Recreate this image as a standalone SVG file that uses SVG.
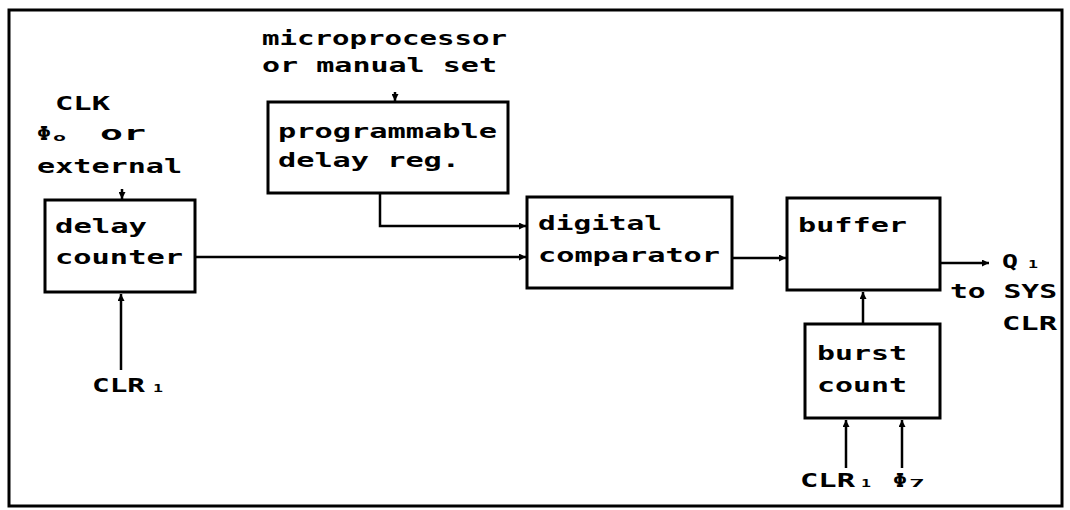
<svg xmlns="http://www.w3.org/2000/svg" width="1070" height="510" viewBox="0 0 1070 510">
<style>
.box{fill:#fff;stroke:#000;stroke-width:3}
.ln{fill:none;stroke:#000;stroke-width:2.5}
.t{font-family:"DejaVu Sans Mono","Liberation Mono",monospace;font-weight:bold;font-size:20px;fill:#000}
.s{font-family:"DejaVu Sans Mono","Liberation Mono",monospace;font-weight:bold;font-size:11px;fill:#000}
</style>
<defs>
<marker id="ah" viewBox="0 0 10 10" refX="10" refY="5" markerWidth="9" markerHeight="7" markerUnits="userSpaceOnUse" orient="auto">
<path d="M0,0 L10,5 L0,10 z" fill="#000"/>
</marker>
</defs>
<rect x="9" y="10" width="1053" height="496" fill="#fff" stroke="#000" stroke-width="3"/>
<g id="labels">
<text class="t" x="55" y="110" textLength="55" lengthAdjust="spacingAndGlyphs">CLK</text>
<text class="t" x="37" y="140" textLength="14" lengthAdjust="spacingAndGlyphs">Φ</text>
<text class="s" x="53" y="141" textLength="13" lengthAdjust="spacingAndGlyphs">o</text>
<text class="t" x="100" y="140" textLength="46" lengthAdjust="spacingAndGlyphs">or</text>
<text class="t" x="37" y="173" textLength="145" lengthAdjust="spacingAndGlyphs">external</text>
<text class="t" x="262" y="45" textLength="245" lengthAdjust="spacingAndGlyphs">microprocessor</text>
<text class="t" x="262" y="72" textLength="235" lengthAdjust="spacingAndGlyphs">or manual set</text>
<text class="t" x="92" y="392" textLength="53" lengthAdjust="spacingAndGlyphs">CLR</text>
<text class="s" x="153" y="392" textLength="10" lengthAdjust="spacingAndGlyphs">1</text>
<text class="t" x="1002" y="268" textLength="16" lengthAdjust="spacingAndGlyphs">Q</text>
<text class="s" x="1028" y="268" textLength="10" lengthAdjust="spacingAndGlyphs">1</text>
<text class="t" x="950" y="298" textLength="107" lengthAdjust="spacingAndGlyphs">to SYS</text>
<text class="t" x="1002" y="330" textLength="55" lengthAdjust="spacingAndGlyphs">CLR</text>
<text class="t" x="800" y="487" textLength="55" lengthAdjust="spacingAndGlyphs">CLR</text>
<text class="s" x="861" y="487" textLength="10" lengthAdjust="spacingAndGlyphs">1</text>
<text class="t" x="893" y="487" textLength="14" lengthAdjust="spacingAndGlyphs">Φ</text>
<text class="s" x="909" y="487" textLength="16" lengthAdjust="spacingAndGlyphs">7</text>
</g>
<g id="delay-counter">
<rect class="box" x="45" y="200" width="150" height="92"/>
<text class="t" x="55" y="233" textLength="92" lengthAdjust="spacingAndGlyphs">delay</text>
<text class="t" x="55" y="264" textLength="128" lengthAdjust="spacingAndGlyphs">counter</text>
</g>
<g id="programmable-delay-reg">
<rect class="box" x="268" y="102" width="240" height="91"/>
<text class="t" x="278" y="138" textLength="219" lengthAdjust="spacingAndGlyphs">programmable</text>
<text class="t" x="278" y="167" textLength="182" lengthAdjust="spacingAndGlyphs">delay reg.</text>
</g>
<g id="digital-comparator">
<rect class="box" x="527" y="197" width="205" height="91"/>
<text class="t" x="538" y="230" textLength="124" lengthAdjust="spacingAndGlyphs">digital</text>
<text class="t" x="538" y="262" textLength="182" lengthAdjust="spacingAndGlyphs">comparator</text>
</g>
<g id="buffer">
<rect class="box" x="787" y="198" width="153" height="92"/>
<text class="t" x="798" y="232" textLength="109" lengthAdjust="spacingAndGlyphs">buffer</text>
</g>
<g id="burst-count">
<rect class="box" x="805" y="324" width="135" height="94"/>
<text class="t" x="817" y="360" textLength="90" lengthAdjust="spacingAndGlyphs">burst</text>
<text class="t" x="817" y="392" textLength="90" lengthAdjust="spacingAndGlyphs">count</text>
</g>
<g id="connectors">
<line class="ln" x1="122" y1="189" x2="122" y2="199" marker-end="url(#ah)"/>
<line class="ln" x1="395" y1="92" x2="395" y2="101" marker-end="url(#ah)"/>
<line class="ln" x1="121" y1="370" x2="121" y2="294" marker-end="url(#ah)"/>
<polyline class="ln" points="380,193 380,226 526,226" marker-end="url(#ah)"/>
<line class="ln" x1="195" y1="257" x2="526" y2="257" marker-end="url(#ah)"/>
<line class="ln" x1="732" y1="258" x2="786" y2="258" marker-end="url(#ah)"/>
<line class="ln" x1="940" y1="263" x2="989" y2="263" marker-end="url(#ah)"/>
<line class="ln" x1="863" y1="324" x2="863" y2="292" marker-end="url(#ah)"/>
<line class="ln" x1="846" y1="468" x2="846" y2="420" marker-end="url(#ah)"/>
<line class="ln" x1="902" y1="468" x2="902" y2="420" marker-end="url(#ah)"/>
</g>
</svg>
